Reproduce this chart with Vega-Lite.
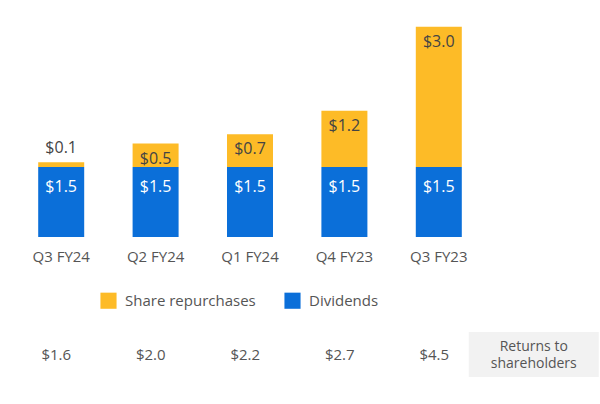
{
  "$schema": "https://vega.github.io/schema/vega-lite/v6.json",
  "padding": {"left": 14, "top": 22, "right": 0, "bottom": 0},
  "background": "white",
  "config": {
    "view": {"stroke": null},
    "font": "Open Sans",
    "concat": {"spacing": 68}
  },
  "datasets": {
    "bars": [
      {"quarter": "Q3 FY24", "type": "Dividends", "value": 1.5},
      {"quarter": "Q3 FY24", "type": "Share repurchases", "value": 0.1},
      {"quarter": "Q2 FY24", "type": "Dividends", "value": 1.5},
      {"quarter": "Q2 FY24", "type": "Share repurchases", "value": 0.5},
      {"quarter": "Q1 FY24", "type": "Dividends", "value": 1.5},
      {"quarter": "Q1 FY24", "type": "Share repurchases", "value": 0.7},
      {"quarter": "Q4 FY23", "type": "Dividends", "value": 1.5},
      {"quarter": "Q4 FY23", "type": "Share repurchases", "value": 1.2},
      {"quarter": "Q3 FY23", "type": "Dividends", "value": 1.5},
      {"quarter": "Q3 FY23", "type": "Share repurchases", "value": 3.0}
    ],
    "table": [
      {"col": "Q3 FY24", "text": "$1.6"},
      {"col": "Q2 FY24", "text": "$2.0"},
      {"col": "Q1 FY24", "text": "$2.2"},
      {"col": "Q4 FY23", "text": "$2.7"},
      {"col": "Q3 FY23", "text": "$4.5"},
      {"col": "Returns", "text": "Returns to shareholders"}
    ]
  },
  "vconcat": [
    {
      "width": 472,
      "height": 215,
      "data": {"name": "bars"},
      "transform": [
        {"stack": "value", "groupby": ["quarter"], "as": ["y0", "y1"], "sort": [{"field": "type", "order": "ascending"}]}
      ],
      "encoding": {
        "x": {
          "field": "quarter", "type": "nominal",
          "sort": ["Q3 FY24", "Q2 FY24", "Q1 FY24", "Q4 FY23", "Q3 FY23"],
          "scale": {"paddingInner": 0, "paddingOuter": 0},
          "axis": {"title": null, "ticks": false, "domain": false, "labelAngle": 0, "labelFontSize": 15, "labelColor": "#555555", "labelPadding": 12, "labelFont": "Open Sans"}
        }
      },
      "layer": [
        {
          "mark": {"type": "bar", "width": 46},
          "encoding": {
            "y": {"field": "y0", "type": "quantitative", "scale": {"domain": [0, 4.6], "nice": false}, "axis": null},
            "y2": {"field": "y1"},
            "color": {
              "field": "type", "type": "nominal",
              "scale": {"domain": ["Share repurchases", "Dividends"], "range": ["#FDBB27", "#0B6FD9"]},
              "legend": {
                "title": null, "orient": "none", "direction": "horizontal",
                "legendX": 86, "legendY": 270,
                "symbolType": "square", "symbolSize": 260, "symbolStrokeWidth": 0,
                "labelFontSize": 15, "labelColor": "#555555", "columnPadding": 28, "labelOffset": 8
              }
            }
          }
        },
        {
          "transform": [{"filter": "datum.type === 'Dividends'"}],
          "mark": {"type": "text", "dy": 20, "fontSize": 16, "color": "white"},
          "encoding": {
            "y": {"field": "y1", "type": "quantitative"},
            "text": {"field": "value", "type": "quantitative", "format": "$.1f"}
          }
        },
        {
          "transform": [{"filter": "datum.type === 'Share repurchases' && datum.value >= 0.3"}],
          "mark": {"type": "text", "dy": 15, "fontSize": 16, "color": "#444444"},
          "encoding": {
            "y": {"field": "y1", "type": "quantitative"},
            "text": {"field": "value", "type": "quantitative", "format": "$.1f"}
          }
        },
        {
          "transform": [{"filter": "datum.type === 'Share repurchases' && datum.value < 0.3"}],
          "mark": {"type": "text", "dy": -14, "fontSize": 16, "color": "#444444"},
          "encoding": {
            "y": {"field": "y1", "type": "quantitative"},
            "text": {"field": "value", "type": "quantitative", "format": "$.1f"}
          }
        }
      ]
    },
    {
      "width": 567,
      "height": 45,
      "data": {"name": "table"},
      "encoding": {
        "x": {
          "field": "col", "type": "nominal",
          "sort": ["Q3 FY24", "Q2 FY24", "Q1 FY24", "Q4 FY23", "Q3 FY23", "Returns"],
          "scale": {"paddingInner": 0, "paddingOuter": 0},
          "axis": null
        }
      },
      "layer": [
        {
          "transform": [{"filter": "datum.col === 'Returns'"}],
          "mark": {"type": "bar", "width": 130, "color": "#F2F2F2"}
        },
        {
          "transform": [{"filter": "datum.col !== 'Returns'"}],
          "mark": {"type": "text", "fontSize": 15, "color": "#555555", "dx": -5},
          "encoding": {"text": {"field": "text"}}
        },
        {
          "transform": [{"filter": "datum.col === 'Returns'"}],
          "mark": {"type": "text", "fontSize": 14, "color": "#555555", "lineHeight": 17, "dy": -8},
          "encoding": {"text": {"value": ["Returns to", "shareholders"]}}
        }
      ]
    }
  ]
}
